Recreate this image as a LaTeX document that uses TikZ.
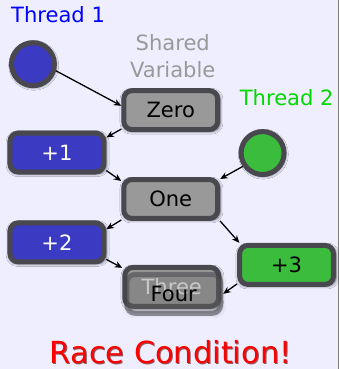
\documentclass[tikz,border=0pt]{standalone}
\usepackage{fontspec}
\setmainfont{DejaVu Sans}
\usepackage{tikz}
\usetikzlibrary{calc, arrows.meta, shadows.blur}
\definecolor{fond}{HTML}{EEEEFF}
\definecolor{bord}{HTML}{48484E}
\definecolor{gris}{HTML}{999999}
\definecolor{bleu}{HTML}{3A3AC2}
\definecolor{vert}{HTML}{3CBC3C}
\tikzstyle{sharedbox} = [rectangle, rounded corners=0.25cm, draw=bord, fill=gris, line width=0.15cm, minimum height=1.17cm, minimum width=2.82cm, text centered, font=\fontsize{18}{22}\selectfont, blur shadow={shadow xshift=0.6pt, shadow yshift=-0.9pt, shadow scale=1.04, shadow blur steps=8, shadow opacity=60}]
\tikzstyle{tone} = [sharedbox, fill=bleu, text=white]
\tikzstyle{ttwo} = [sharedbox, fill=vert]
\tikzstyle{threadball} = [circle, draw=bord, line width=0.15cm, minimum size=1.29cm, blur shadow={shadow xshift=0.6pt, shadow yshift=-0.9pt, shadow scale=1.04, shadow blur steps=8, shadow opacity=60}]
\tikzstyle{legende} = [font=\fontsize{18}{23}\selectfont, inner sep=0pt]

\begin{document}
\begin{tikzpicture}[x=0.03cm, y=-0.03cm, >={Stealth[length=6.5pt, width=5.5pt]}]

        \fill [fond] (0,0) rectangle (339,369);
        \draw [gris!80!black, line width=0.5pt] (338.6,0) -- (338.6,369);
        \useasboundingbox (0,0) rectangle (339,369);

        \node (nom1) [legende, text=blue, anchor=base west] at (11,22) {Thread 1};
        \node (nom2) [legende, text=green!85!black, anchor=base west] at (240,105) {Thread 2};
        \node (partage) [legende, text=gris, align=center] at (173,56) {Shared\\Variable};

        \node (t1) [threadball, fill=bleu] at (33,64) {};
        \node (t2) [threadball, fill=vert] at (263,153) {};

        \node (zero) [sharedbox] at (171,110) {Zero};
        \node (plus1) [tone] at (57,152.5) {+1};
        \node (one) [sharedbox] at (171,199) {One};
        \node (plus2) [tone] at (57,242.5) {+2};
        \node (plus3) [ttwo] at (287,265) {+3};
        \node (three) [sharedbox, text=white] at (172,287) {Three};
        \node (four) [sharedbox, fill opacity=0.25, draw opacity=0.55, text opacity=1] at (174,294) {Four};

        \draw [->, line width=1.1pt] (t1.-16) -- (zero.175);
        \draw [->, line width=1.1pt] (zero.201) -- (plus1.17);
        \draw [->, line width=1.1pt] (plus1.-20) -- (one.160);
        \draw [->, line width=1.1pt] (t2.214) -- (one.22);
        \draw [->, line width=1.1pt] (one.203) -- (plus2.15);
        \draw [->, line width=1.1pt] (one.-24) -- (plus3.155);
        \draw [->, line width=1.1pt] (plus2.-19) -- (three.159);
        \draw [->, line width=1.1pt] (plus3.201) -- (four.0);

        \node (ombre) [font=\fontsize{26}{30}\selectfont, text=black!70!red, opacity=0.6, inner sep=0pt, anchor=base] at (172,365) {Race Condition!};
        \node (race) [font=\fontsize{26}{30}\selectfont, text=red, inner sep=0pt, anchor=base] at (171,364) {Race Condition!};

    \end{tikzpicture}
\end{document}
